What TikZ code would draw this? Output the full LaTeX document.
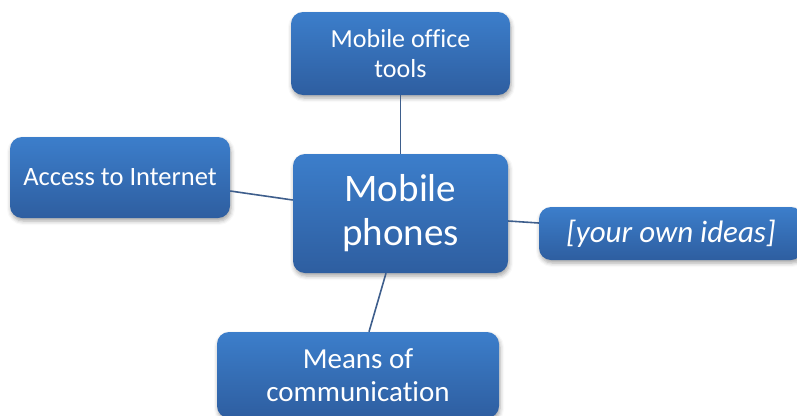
\documentclass[tikz,border=0pt]{standalone}
\usepackage{fontspec}
\setmainfont[Ligatures=NoCommon]{Carlito}
\usetikzlibrary{shadows.blur}
\definecolor{boxtop}{RGB}{60,126,203}
\definecolor{boxbot}{RGB}{46,94,160}
\definecolor{linkc}{RGB}{62,94,140}
\tikzset{
  idea/.style={rounded corners=12pt, top color=boxtop, bottom color=boxbot, draw=none,
    text=white, align=center, inner sep=0pt,
    blur shadow={shadow xshift=1pt, shadow yshift=-3pt, shadow blur radius=4pt, shadow opacity=35}},
  link/.style={draw=linkc, line width=1.6pt}
}
\begin{document}
\begin{tikzpicture}[x=1pt,y=-1pt]
\useasboundingbox (0,0) rectangle (797,415);
\begin{scope}
\clip (0,0) rectangle (797,415);
\node[idea, minimum width=215pt, minimum height=119pt, font=\fontsize{39}{44}\selectfont] (center) at (400.5,213.5) {Mobile\\phones};
\node[idea, minimum width=219pt, minimum height=83pt, font=\fontsize{26}{30}\selectfont] (top) at (400.5,53.5) {Mobile office\\tools};
\node[idea, minimum width=220pt, minimum height=81pt, font=\fontsize{26.5}{30}\selectfont] (left) at (120,177.5) {Access to Internet};
\node[idea, minimum width=264pt, minimum height=53pt, font=\fontsize{31}{35}\itshape] (right) at (671,233.5) {[your own ideas]};
\node[idea, minimum width=282pt, minimum height=86pt, font=\fontsize{29}{33}\selectfont] (bottom) at (358,375) {Means of\\communication};
\end{scope}
\draw[link] (top.south) -- (top.south |- center.north);
\draw[link] ([yshift=-13.5pt]left.east) -- ([yshift=13.5pt]center.west);
\draw[link] ([yshift=-7.5pt]center.east) -- ([yshift=10.5pt]right.west);
\draw[link] ([xshift=-14.5pt]center.south) -- ([xshift=11pt]bottom.north);
\end{tikzpicture}
\end{document}
